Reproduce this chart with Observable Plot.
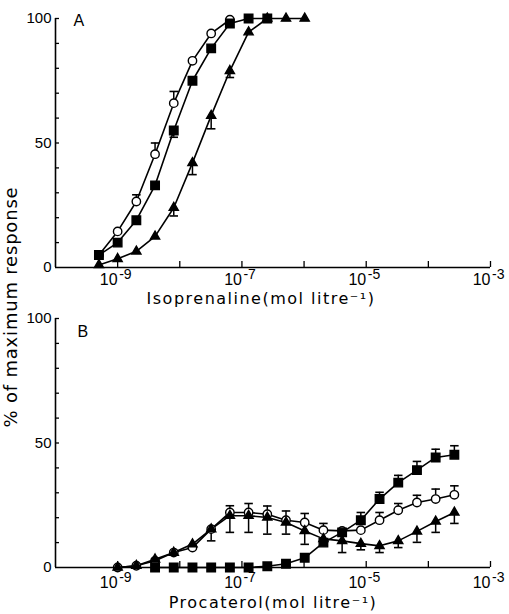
<!DOCTYPE html>
<html><head><meta charset="utf-8">
<script src="https://cdn.jsdelivr.net/npm/d3@7"></script>
<script src="https://cdn.jsdelivr.net/npm/@observablehq/plot@0.6"></script>
<style>
body{margin:0;background:#fff;}
#wrap{position:relative;width:509px;height:614px;font-family:"DejaVu Sans",sans-serif;color:#000;}
#a{position:absolute;left:0;top:0;z-index:2;}
#b{position:absolute;left:0;top:300px;z-index:1;}
#ylab{position:absolute;z-index:3;left:10px;top:307px;transform:translate(-50%,-50%) rotate(-90deg);white-space:nowrap;font-size:18px;letter-spacing:0.8px;}
</style></head><body>
<div id="wrap"><div id="a"></div><div id="b"></div><div id="ylab">% of maximum response</div></div>
<script>
// Panel A: isoprenaline (mol/l)
const doseA = [5e-10, 1e-9, 2e-9, 4e-9, 8e-9, 1.6e-8, 3.2e-8, 6.4e-8, 1.28e-7, 2.56e-7, 5.12e-7, 1.024e-6];
const isoCircle   = [5, 14.5, 26.5, 45.5, 66, 83, 94, 99.5];
const isoCircleE  = [0, 0, 2.7, 4.5, 4.7, 0, 0, 0];
const isoSquare   = [5, 10, 19, 33, 55, 75, 88, 98, 100, 100];
const isoSquareE  = [0, 0, 0, 0, -2.7, 0, 0, 0, 0, 0];
const isoTri      = [1, 3.5, 6.5, 12.5, 24, 42, 61, 79, 94.5, 100, 100, 100];
const isoTriE     = [0, 0, 0, 0, -3.3, -4.7, -5.3, -2.7, 0, 0, 0, 0];

// Panel B: procaterol (mol/l)
const doseB = [1e-9, 2e-9, 4e-9, 8e-9, 1.6e-8, 3.2e-8, 6.4e-8, 1.28e-7, 2.56e-7, 5.12e-7, 1.024e-6, 2.048e-6, 4.096e-6, 8.192e-6, 1.6384e-5, 3.2768e-5, 6.5536e-5, 1.31072e-4, 2.62144e-4];
const proCircle  = [0, 0.7, 2.7, 6.0, 8.0, 15.4, 22.1, 22.1, 21.4, 19.0, 18.1, 15.0, 14.7, 15.0, 19.0, 23.0, 26.1, 27.5, 29.2];
const proCircleE = [0, 0, 0, 0, 0, 0, 2.7, 3.6, 3.3, 3.7, 3.6, 2.7, 0, 0, 3.1, 2.7, 2.9, 4.0, 3.6];
const proSquare  = [null, null, 0, 0, 0, 0, 0, 0, 0.5, 1.5, 3.9, 10, 14.1, 19.0, 27.5, 34.1, 39.1, 44.2, 45.3];
const proSquareE = [0, 0, 0, 0, 0, 0, 0, 0, 0, 0, 0, 0, 0, 3.1, 2.7, 2.9, 3.5, 3.3, 3.6];
const proTri     = [0, 0.7, 3.3, 6.0, 9.4, 15.4, 20.8, 20.8, 20.1, 18.1, 14.7, 11.5, 10.7, 9.6, 8.7, 10.7, 14.5, 18.5, 22.1];
const proTriE    = [0, 0, 0, 0, 0, -4.7, -6.7, -6.7, -6.7, -4.7, -5.4, 0, -4.7, -2.5, -2.7, -2.7, -4.4, -4.4, -4.4];

const decades = [1e-9, 1e-8, 1e-7, 1e-6, 1e-5, 1e-4, 1e-3];
const labelTicks = [1e-9, 1e-7, 1e-5, 1e-3];
const yLabelTicks = [0, 50, 100];
const yMinor = [10, 20, 30, 40, 50, 60, 70, 80, 90, 100];
const expText = d => "-" + String(Math.round(-Math.log10(d)));

function rows(dose, vals, errs, series) {
  return vals.map((v, i) => ({x: dose[i], y: v, e: errs[i], y2: v + errs[i], s: series})).filter(d => d.y != null);
}
const capSymbol = {draw(ctx, size) { const w = Math.sqrt(size) * 0.6; ctx.moveTo(-w, 0); ctx.lineTo(w, 0); }};
const FONT = "'Liberation Sans', Arial, sans-serif";

function panel(series, opts) {
  const W = 509, mL = 55, mR = 19;
  const innerH = opts.height - opts.marginTop - opts.marginBottom;
  const all = series.flatMap(s => s.data);
  const errs = all.filter(d => d.e !== 0);
  const marks = [
    Plot.axisY({ticks: yLabelTicks, tickSize: 0, tickPadding: 4, label: null, fontSize: 15}),
    Plot.text(labelTicks, {x: d => d, text: () => "10", frameAnchor: "bottom", lineAnchor: "middle", textAnchor: "end", dx: 0, dy: opts.tickDy, fontSize: 16}),
    Plot.text(labelTicks, {x: d => d, text: expText, frameAnchor: "bottom", lineAnchor: "middle", textAnchor: "start", dx: 1.5, dy: opts.tickDy - 5, fontSize: 14}),
    Plot.tickX(decades, {x: d => d, insetTop: innerH - 6, strokeWidth: 1.3}),
    Plot.tickY(yMinor, {y: d => d, insetRight: (W - mL - mR) - 4, strokeWidth: 1.3}),
    Plot.ruleY([0], {stroke: "black", strokeWidth: 1.6}),
    Plot.ruleX([1e-10], {y1: 0, y2: 100, stroke: "black", strokeWidth: 1.6}),
    Plot.text([opts.xlabel], {frameAnchor: "bottom", lineAnchor: "middle", dx: opts.labelDx, dy: opts.labelDy, fontSize: 16, fontFamily: "'DejaVu Sans', sans-serif"}),
    Plot.text([opts.letter], {frameAnchor: "top-left", lineAnchor: "middle", dx: opts.letterDx, dy: opts.letterDy, fontSize: 16}),
  ];
  for (const s of series) {
    marks.push(Plot.line(s.data, {x: "x", y: "y", stroke: "black", strokeWidth: 1.6}));
  }
  marks.push(Plot.ruleX(errs, {x: "x", y1: "y", y2: "y2", stroke: "black", strokeWidth: 1.5}));
  marks.push(Plot.dot(errs, {x: "x", y: "y2", symbol: capSymbol, r: 4, stroke: "black", strokeWidth: 1.6}));
  for (const s of series) {
    marks.push(Plot.dot(s.data, {x: "x", y: "y", symbol: s.symbol, r: s.r, fill: s.fill, stroke: "black", strokeWidth: 1.4}));
  }
  const svg = Plot.plot({
    width: W, height: opts.height,
    marginLeft: mL, marginRight: mR, marginTop: opts.marginTop, marginBottom: opts.marginBottom,
    x: {type: "log", domain: [1e-10, 1e-3], axis: null},
    y: {domain: [0, 100]},
    style: {fontFamily: FONT, fontSize: "15px", color: "black", background: opts.bg, overflow: "visible"},
    marks
  });
  d3.select(svg).selectAll("text").filter(function() { return this.textContent === opts.xlabel; })
    .attr("letter-spacing", "1.5px");
  return svg;
}

const A = panel([
  {data: rows(doseA, isoCircle, isoCircleE, "circ"), symbol: "circle", r: 4.2, fill: "white"},
  {data: rows(doseA, isoTri, isoTriE, "tri"), symbol: "triangle", r: 3.4, fill: "black"},
  {data: rows(doseA, isoSquare, isoSquareE, "sq"), symbol: "square", r: 4.8, fill: "black"},
], {height: 305, marginTop: 18, marginBottom: 38, xlabel: "Isoprenaline(mol litre\u207B\u00B9)", labelDx: -12, labelDy: 31, letter: "A", letterDx: 18, letterDy: 2, tickDy: 12, bg: "transparent"});

const B = panel([
  {data: rows(doseB, proCircle, proCircleE, "circ"), symbol: "circle", r: 4.2, fill: "white"},
  {data: rows(doseB, proTri, proTriE, "tri"), symbol: "triangle", r: 3.4, fill: "black"},
  {data: rows(doseB, proSquare, proSquareE, "sq"), symbol: "square", r: 4.8, fill: "black"},
], {height: 314, marginTop: 18, marginBottom: 47, xlabel: "Procaterol(mol litre\u207B\u00B9)", labelDx: 0, labelDy: 35, letter: "B", letterDx: 22, letterDy: 13, tickDy: 15, bg: "transparent"});

document.getElementById("a").append(A);
document.getElementById("b").append(B);
</script>
</body></html>
